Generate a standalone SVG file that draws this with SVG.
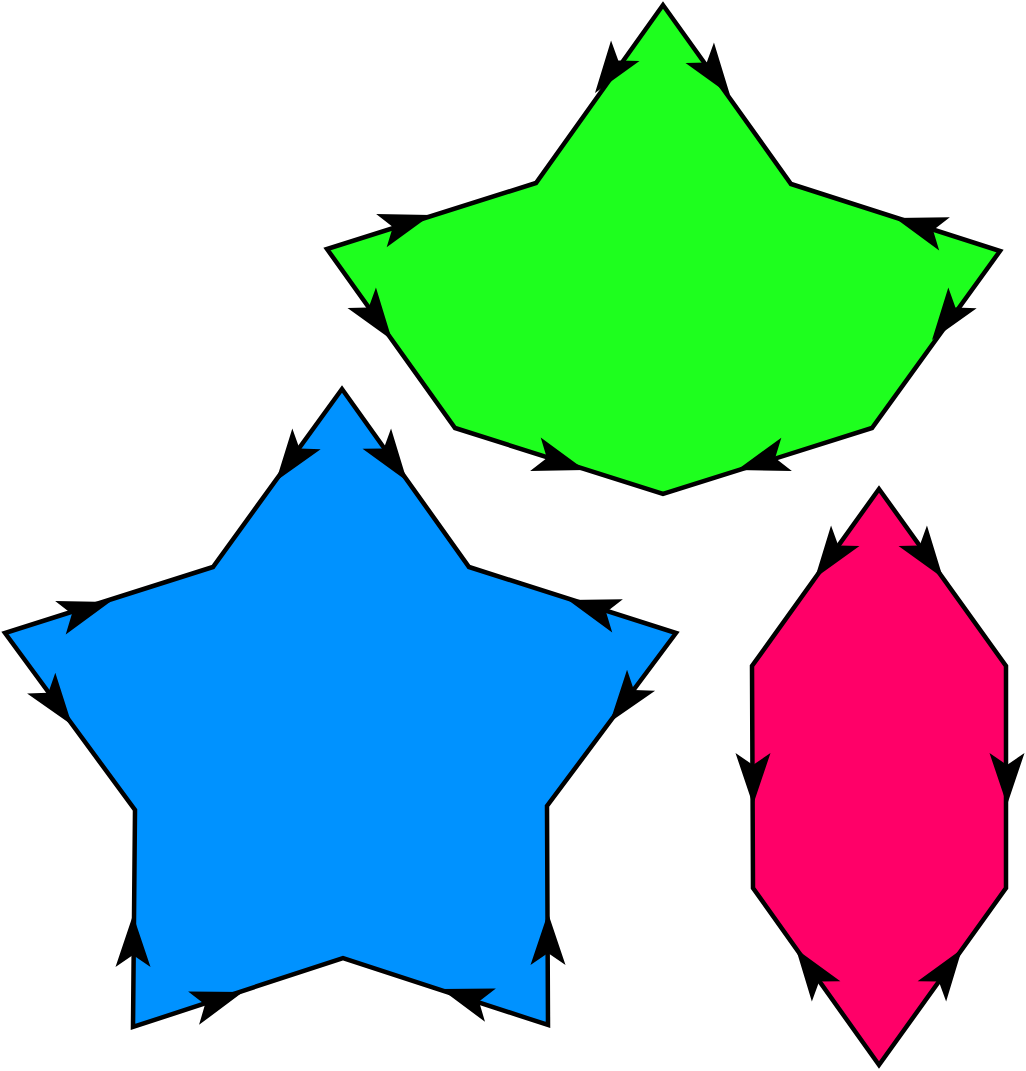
<svg xmlns="http://www.w3.org/2000/svg" xmlns:xlink="http://www.w3.org/1999/xlink" width="1026" height="1071" viewBox="0 0 1026 1071">
<style>
.edge{stroke:#000;stroke-width:4.5;stroke-linejoin:miter;stroke-miterlimit:10}
.ah{fill:#000;stroke:none}
</style>
<defs>
<path id="arr" class="ah" d="M0,0 L-52,-17.5 L-40,0 L-52,17.5 Z"/>
</defs>
<rect width="1026" height="1071" fill="#fff"/>
<g id="green">
<polygon class="edge" fill="#1eff1e" points="663,5 536,183 327,249 455,428 663,494 872,428 1000,251 791,184"/>
<use xlink:href="#arr" transform="translate(595,93) rotate(125.6)"/>
<use xlink:href="#arr" transform="translate(730,95) rotate(54.4)"/>
<use xlink:href="#arr" transform="translate(431,215) rotate(-17.5)"/>
<use xlink:href="#arr" transform="translate(392,340) rotate(54.4)"/>
<use xlink:href="#arr" transform="translate(585,470) rotate(17.6)"/>
<use xlink:href="#arr" transform="translate(737,470) rotate(162.5)"/>
<use xlink:href="#arr" transform="translate(895,218) rotate(197.8)"/>
<use xlink:href="#arr" transform="translate(932,340) rotate(125.9)"/>
</g>
<g id="blue">
<polygon class="edge" fill="#0092ff" points="342,389 213,567 5,633 135,810 133,1027 343,958 548,1025 547,806 676,633 469,567"/>
<use xlink:href="#arr" transform="translate(276,481) rotate(125.9)"/>
<use xlink:href="#arr" transform="translate(407,481) rotate(54.5)"/>
<use xlink:href="#arr" transform="translate(110,602) rotate(-17.6)"/>
<use xlink:href="#arr" transform="translate(72,725) rotate(53.7)"/>
<use xlink:href="#arr" transform="translate(133,915) rotate(-90)"/>
<use xlink:href="#arr" transform="translate(243,992) rotate(-18.2)"/>
<use xlink:href="#arr" transform="translate(441,989) rotate(198.1)"/>
<use xlink:href="#arr" transform="translate(548,913) rotate(-90)"/>
<use xlink:href="#arr" transform="translate(610,722) rotate(126.7)"/>
<use xlink:href="#arr" transform="translate(568,600) rotate(197.7)"/>
</g>
<g id="pink">
<polygon class="edge" fill="#ff0068" points="879,489 752,666 753,888 879,1065 1006,888 1006,666"/>
<use xlink:href="#arr" transform="translate(815,578) rotate(125.6)"/>
<use xlink:href="#arr" transform="translate(943,578) rotate(54.4)"/>
<use xlink:href="#arr" transform="translate(753,805) rotate(90)"/>
<use xlink:href="#arr" transform="translate(1007,805) rotate(90)"/>
<use xlink:href="#arr" transform="translate(796,949) rotate(234.6)"/>
<use xlink:href="#arr" transform="translate(962,949) rotate(-54.6)"/>
</g>
</svg>
